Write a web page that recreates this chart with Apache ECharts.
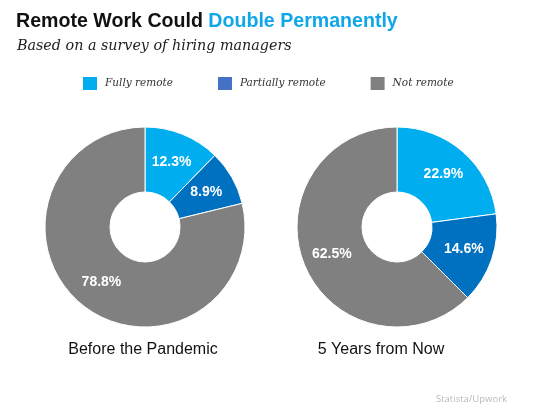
<!DOCTYPE html>
<html>
<head>
<meta charset="utf-8">
<script src="https://cdn.jsdelivr.net/npm/echarts@6/dist/echarts.min.js"></script>
<style>
  html, body { margin: 0; padding: 0; background: #fff; }
  #main { width: 550px; height: 410px; }
</style>
</head>
<body>
<div id="main"></div>
<script>
// data
var categories = ['Fully remote', 'Partially remote', 'Not remote'];
var beforeValues = [12.3, 8.9, 78.8];
var futureValues = [22.9, 14.6, 62.5];
var pieTitles = ['Before the Pandemic', '5 Years from Now'];

var sliceColors = ['#00aeef', '#0070c0', '#808080'];
var legendColors = ['#00aeef', '#4472c4', '#808080'];

var chart = echarts.init(document.getElementById('main'));

function toData(values) {
  var out = [];
  for (var i = 0; i < values.length; i++) {
    out.push({ name: categories[i], value: values[i], itemStyle: { color: sliceColors[i] } });
  }
  return out;
}

function pieSeries(values, cx) {
  return {
    type: 'pie',
    center: [cx, 227],
    radius: [35, 100],
    startAngle: 90,
    clockwise: true,
    silent: true,
    itemStyle: { borderColor: '#fff', borderWidth: 1 },
    label: {
      show: true,
      position: 'inside',
      formatter: '{c}%',
      color: '#fff',
      fontFamily: 'Liberation Sans, Arial',
      fontWeight: 'bold',
      fontSize: 14
    },
    labelLine: { show: false },
    data: toData(values)
  };
}

var legendData = [];
for (var i = 0; i < categories.length; i++) {
  legendData.push({ name: categories[i], itemStyle: { color: legendColors[i] } });
}

var option = {
  backgroundColor: '#fff',
  animation: false,
  title: [{
    text: '{a|Remote Work Could }{b|Double Permanently}',
    left: 11,
    top: 7,
    textStyle: {
      rich: {
        a: { fontFamily: 'Liberation Sans, Arial', fontWeight: 'bold', fontSize: 19.6, color: '#111' },
        b: { fontFamily: 'Liberation Sans, Arial', fontWeight: 'bold', fontSize: 19.6, color: '#10a7e8' }
      }
    }
  }, {
    text: 'Based on a survey of hiring managers',
    left: 12,
    top: 34,
    textStyle: { fontFamily: 'DejaVu Serif', fontStyle: 'italic', fontWeight: 'normal', fontSize: 14.3, color: '#222' }
  }, {
    text: pieTitles[0],
    left: 138,
    top: 337,
    textAlign: 'center',
    textStyle: { fontFamily: 'Liberation Sans, Arial', fontWeight: 'normal', fontSize: 16, color: '#111' }
  }, {
    text: pieTitles[1],
    left: 376,
    top: 337,
    textAlign: 'center',
    textStyle: { fontFamily: 'Liberation Sans, Arial', fontWeight: 'normal', fontSize: 16, color: '#111' }
  }, {
    text: 'Statista/Upwork',
    right: 38,
    top: 389,
    textStyle: { fontFamily: 'Open Sans', fontWeight: 'normal', fontSize: 9.5, color: '#bbb' }
  }],
  legend: {
    left: 76,
    top: 70,
    itemWidth: 16,
    itemHeight: 15,
    itemGap: 43,
    icon: 'rect',
    selectedMode: false,
    textStyle: { fontFamily: 'DejaVu Serif', fontStyle: 'italic', fontSize: 10.5, color: '#333', padding: [0, 0, 0, 2] },
    data: legendData
  },
  series: [pieSeries(beforeValues, 145), pieSeries(futureValues, 397)]
};

chart.setOption(option);
</script>
</body>
</html>
